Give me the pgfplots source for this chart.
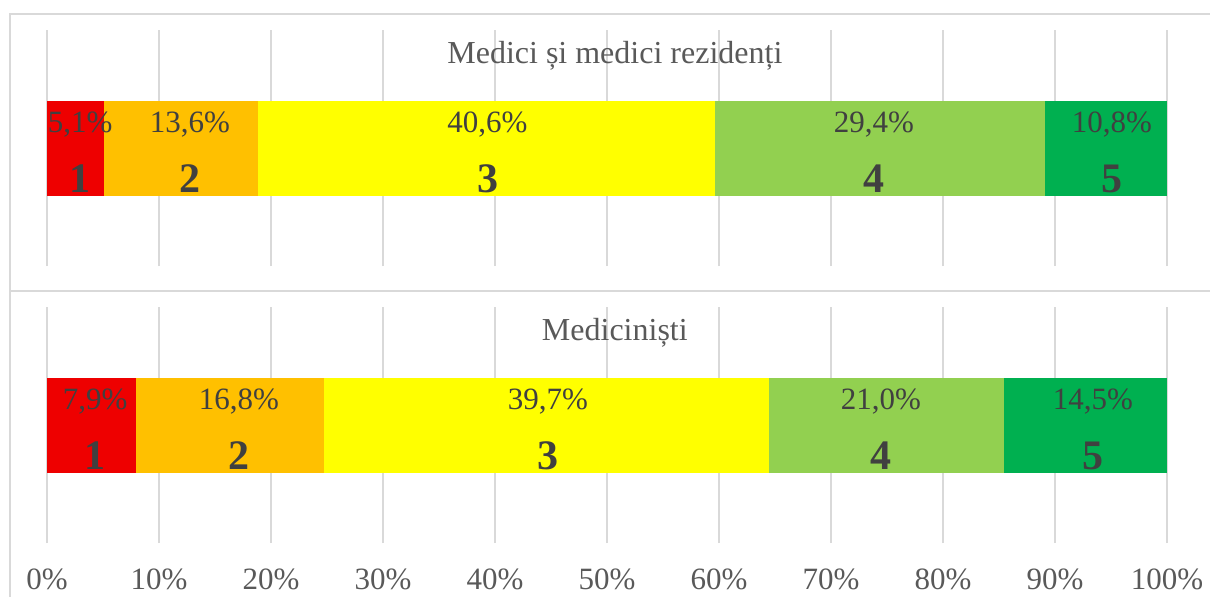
\documentclass[border=0pt]{standalone}
\usepackage{pgfplots}
\pgfplotsset{compat=1.18}
\usepackage{fontspec}
\setmainfont{Liberation Serif}
\definecolor{cR}{HTML}{EE0000}
\definecolor{cO}{HTML}{FFC000}
\definecolor{cY}{HTML}{FFFF00}
\definecolor{cLG}{HTML}{92D050}
\definecolor{cG}{HTML}{00B050}
\definecolor{gridc}{HTML}{D9D9D9}
\definecolor{lab}{HTML}{404040}
\definecolor{tick}{HTML}{595959}
\newcommand{\pct}{\fontsize{15.5}{18}\selectfont\color{lab}}
\newcommand{\num}{\fontsize{21}{24}\selectfont\bfseries\color{lab}}
\pgfplotsset{
  panel/.style={
    width=560pt, height=118pt, scale only axis,
    xmin=0, xmax=100, ymin=0, ymax=1,
    xbar stacked, bar width=47.5pt,
    xtick={0,10,...,100}, ytick=\empty,
    major tick length=0pt,
    axis line style={draw=none},
    xmajorgrids, grid style={color=gridc, line width=0.8pt},
    clip=false,
  },
  seg/.style={fill=#1, draw=none, bar shift=0pt},
}
\begin{document}
\begin{tikzpicture}
\clip (0,0) rectangle (605pt,-298pt);
\fill[white] (0,0) rectangle (605pt,-298pt);
\draw[gridc, line width=1pt] (620pt,-7pt) -- (4.85pt,-7pt) -- (4.85pt,-310pt);
\draw[gridc, line width=1pt] (4.85pt,-145.5pt) -- (620pt,-145.5pt);
% top panel
\begin{axis}[panel, at={(23.5pt,-133pt)}, anchor=south west, xticklabels={}]
\addplot[seg=cR] coordinates {(5.13,0.5)};
\addplot[seg=cO] coordinates {(13.67,0.5)};
\addplot[seg=cY] coordinates {(40.80,0.5)};
\addplot[seg=cLG] coordinates {(29.55,0.5)};
\addplot[seg=cG] coordinates {(10.85,0.5)};
\coordinate (a1) at (axis cs:2.95,0.566);
\coordinate (a2) at (axis cs:12.77,0.566);
\coordinate (a3) at (axis cs:39.33,0.566);
\coordinate (a4) at (axis cs:73.84,0.566);
\coordinate (a5) at (axis cs:95.09,0.566);
\coordinate (b1) at (axis cs:2.95,0.311);
\coordinate (b2) at (axis cs:12.77,0.311);
\coordinate (b3) at (axis cs:39.33,0.311);
\coordinate (b4) at (axis cs:73.84,0.311);
\coordinate (b5) at (axis cs:95.09,0.311);
\coordinate (tt) at (axis cs:50.7,0.857);
\end{axis}
% bottom panel
\begin{axis}[panel, at={(23.5pt,-271.5pt)}, anchor=south west,
  xticklabels={0\%,10\%,20\%,30\%,40\%,50\%,60\%,70\%,80\%,90\%,100\%},
  xticklabel style={anchor=base, yshift=-23pt, font=\fontsize{15.5}{18}\selectfont, text=tick}]
\addplot[seg=cR] coordinates {(7.91,0.5)};
\addplot[seg=cO] coordinates {(16.82,0.5)};
\addplot[seg=cY] coordinates {(39.74,0.5)};
\addplot[seg=cLG] coordinates {(21.02,0.5)};
\addplot[seg=cG] coordinates {(14.51,0.5)};
\coordinate (c1) at (axis cs:4.29,0.566);
\coordinate (c2) at (axis cs:17.14,0.566);
\coordinate (c3) at (axis cs:44.73,0.566);
\coordinate (c4) at (axis cs:74.46,0.566);
\coordinate (c5) at (axis cs:93.39,0.566);
\coordinate (d1) at (axis cs:4.29,0.311);
\coordinate (d2) at (axis cs:17.14,0.311);
\coordinate (d3) at (axis cs:44.73,0.311);
\coordinate (d4) at (axis cs:74.46,0.311);
\coordinate (d5) at (axis cs:93.39,0.311);
\coordinate (tb) at (axis cs:50.7,0.857);
\end{axis}
\begin{scope}[every node/.style={anchor=base, inner sep=0pt}]
\node at (a1) {\pct 5,1\%};
\node at (a2) {\pct 13,6\%};
\node at (a3) {\pct 40,6\%};
\node at (a4) {\pct 29,4\%};
\node at (a5) {\pct 10,8\%};
\node at (b1) {\num 1};
\node at (b2) {\num 2};
\node at (b3) {\num 3};
\node at (b4) {\num 4};
\node at (b5) {\num 5};
\node at (tt) {\fontsize{16}{19}\selectfont\color{tick}Medici și medici rezidenți};
\node at (c1) {\pct 7,9\%};
\node at (c2) {\pct 16,8\%};
\node at (c3) {\pct 39,7\%};
\node at (c4) {\pct 21,0\%};
\node at (c5) {\pct 14,5\%};
\node at (d1) {\num 1};
\node at (d2) {\num 2};
\node at (d3) {\num 3};
\node at (d4) {\num 4};
\node at (d5) {\num 5};
\node at (tb) {\fontsize{16}{19}\selectfont\color{tick}Mediciniști};
\end{scope}
\end{tikzpicture}
\end{document}
